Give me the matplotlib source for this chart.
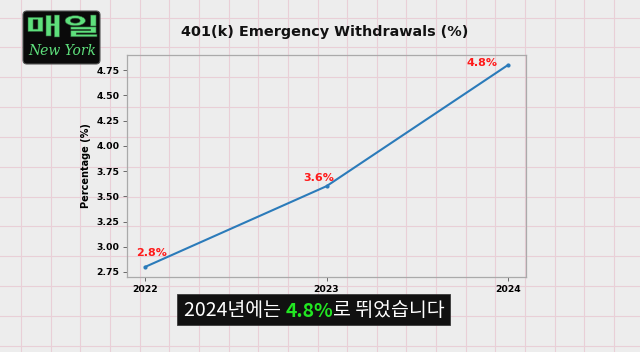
import matplotlib
matplotlib.use("Agg")
import matplotlib.pyplot as plt
import numpy as np
from matplotlib.patches import Rectangle, FancyBboxPatch, PathPatch
from matplotlib.textpath import TextPath
from matplotlib.font_manager import FontProperties
from matplotlib.transforms import Affine2D

years = [2022, 2023, 2024]
values = [2.8, 3.6, 4.8]
labels = ["2.8%", "3.6%", "4.8%"]
label_offsets = [(4.3, 10), (-5.8, 5.8), (-18.7, 1.4)]  # points, style only
title = "401(k) Emergency Withdrawals (%)"
ylabel = "Percentage (%)"
yticks = [2.75, 3.00, 3.25, 3.50, 3.75, 4.00, 4.25, 4.50, 4.75]
sub_parts = ["2024년에는 ", "4.8%", "로 뛰었습니다"]
logo_main = "매일"
logo_sub = "New York"

W, H = 640, 352
fig = plt.figure(figsize=(W / 100, H / 100), dpi=100)
fig.patch.set_facecolor("#ededed")

# background grid paper
bg = fig.add_axes([0, 0, 1, 1], zorder=-5)
bg.set_xlim(0, W)
bg.set_ylim(H, 0)
bg.axis("off")
bg.set_facecolor("#ededed")
for x in np.arange(21, W, 29.65):
    bg.axvline(x, color="#e9cfd7", lw=0.8, zorder=0)
for y in np.arange(17.5, H, 29.85):
    bg.axhline(y, color="#e9cfd7", lw=0.8, zorder=0)

# logo
bg.add_patch(FancyBboxPatch((23, 11), 77, 53, boxstyle="round,pad=0,rounding_size=4",
                            fc="#0a0a0a", ec="#555555", lw=0.8, zorder=2))
fp = FontProperties(family="Noto Sans CJK KR", weight="black")
tp = TextPath((0, 0), logo_main, size=1, prop=fp)
ext = tp.get_extents()
sx = 69 / ext.width
sy = 22 / ext.height
tr = Affine2D().translate(-ext.x0, -ext.y0).scale(sx, -sy).translate(28, 37)
bg.add_patch(PathPatch(tr.transform_path(tp), fc="#5ee07c", ec="#2a5a35", lw=0.4, zorder=4))
bg.text(62, 51, logo_sub, family=["DejaVu Serif"], style="italic", fontsize=10,
        color="#5ee07c", ha="center", va="center", zorder=4)

# subtitle box
bg.add_patch(Rectangle((177, 294), 273, 31, fc="#111111", ec="#3a3a3a", lw=0.6, zorder=2))

ax = fig.add_axes([127 / W, 75 / H, 399 / W, 222 / H])
ax.set_facecolor("none")
ax.plot(years, values, color="#2b7bba", lw=1.5, marker="o", markersize=2)
for xv, yv, lab, off in zip(years, values, labels, label_offsets):
    ax.annotate(lab, (xv, yv), xytext=off, textcoords="offset points", ha="center",
                va="center", color="#ff1a1a", fontweight="bold", fontsize=8)
ax.set_xticks(years)
ax.set_xticklabels([str(y) for y in years])
ax.set_yticks(yticks)
ax.set_yticklabels([f"{v:.2f}" for v in yticks])
ax.tick_params(labelsize=6.7, length=3, width=0.6, color="#555555", pad=2.5)
for t in ax.get_xticklabels() + ax.get_yticklabels():
    t.set_fontweight("bold")
ax.set_ylabel(ylabel, fontsize=7, fontweight="bold")
for s in ax.spines.values():
    s.set_color("#aaaaaa")
    s.set_linewidth(0.9)

fig.text(325 / W, 1 - 32 / H, title, ha="center", va="center", fontsize=10.4,
         fontweight="bold", color="#111111")

# subtitle text
t1 = bg.text(184, 321, sub_parts[0], family=["Noto Sans CJK KR"], fontsize=14,
             fontweight="medium", color="white", ha="left", va="bottom", zorder=5)
t2 = bg.annotate(sub_parts[1], xy=(1, 0), xycoords=t1, family=["Noto Sans CJK KR"],
                 fontsize=14, fontweight="bold", color="#22e622", ha="left", va="bottom", zorder=5)
t3 = bg.annotate(sub_parts[2], xy=(1, 0), xycoords=t2, family=["Noto Sans CJK KR"],
                 fontsize=14, fontweight="medium", color="white", ha="left", va="bottom", zorder=5)

fig.savefig("out.png", dpi=100, facecolor=fig.get_facecolor())
